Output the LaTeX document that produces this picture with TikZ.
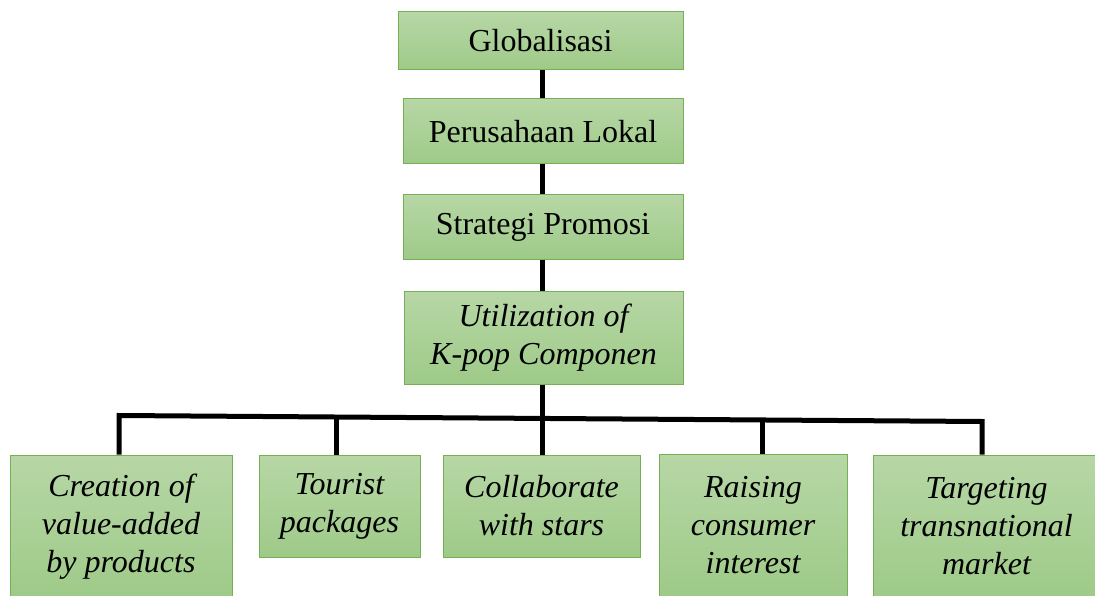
\documentclass[tikz,border=0pt]{standalone}
\usepackage{fontspec}
\setmainfont{Liberation Serif}
\usetikzlibrary{calc}
\definecolor{gtop}{RGB}{183,215,166}
\definecolor{gbot}{RGB}{158,202,136}
\definecolor{gbord}{RGB}{118,176,84}
\tikzset{
  gbox/.style={rectangle, draw=gbord, line width=1pt, top color=gtop, bottom color=gbot,
    align=center, inner sep=0pt, font=\fontsize{32}{37.5}\selectfont, text=black},
  gboxi/.style={gbox, font=\fontsize{32}{38}\selectfont\itshape},
  conn/.style={line width=5pt, black, line join=miter}
}
\begin{document}
\begin{tikzpicture}[x=1pt,y=-1pt]
\useasboundingbox (0,0) rectangle (1095,596);
\begin{scope}
\clip (0,0) rectangle (1095,596);
% top chain
\node[gbox, minimum width=285pt, minimum height=58pt] (glob) at (540.5,41) {Globalisasi};
\node[gbox, minimum width=280pt, minimum height=65pt] (pers) at (543,131.5) {Perusahaan Lokal};
\node[gbox, minimum width=280pt, minimum height=64pt] (strat) at (543,227) {Strategi Promosi};
\node[gboxi, minimum width=279pt, minimum height=93pt] (util) at (543.5,337.5) {Utilization of\\K-pop Componen};
% bottom row
\node[gboxi, minimum width=222pt, minimum height=144pt] (cre) at (121,527) {Creation of\\value-added\\by products};
\node[gboxi, minimum width=161pt, minimum height=102pt] (tour) at (339.5,506) {Tourist\\packages};
\node[gboxi, minimum width=197pt, minimum height=102pt] (coll) at (541.5,506) {Collaborate\\with stars};
\node[gboxi, minimum width=188pt, minimum height=142pt] (rais) at (753,525) {Raising\\consumer\\interest};
\node[gboxi, minimum width=227pt, minimum height=142pt] (targ) at (986.5,526) {Targeting\\transnational\\market};
% connectors
\coordinate (barL) at (119,415.5);
\coordinate (barR) at (982,421.5);
\coordinate (bT) at ($(barL)!0.2526!(barR)$);
\coordinate (bR) at ($(barL)!0.7462!(barR)$);
\draw[conn] (glob.south -| 542,0) -- (pers.north -| 542,0);
\draw[conn] (pers.south -| 542,0) -- (strat.north -| 542,0);
\draw[conn] (strat.south -| 542,0) -- (util.north -| 542,0);
\draw[conn] (util.south -| 542,0) -- (coll.north -| 542,0);
\draw[conn] (barL |- cre.north) -- (barL) -- (barR) -- (barR |- targ.north);
\draw[conn] (bT) -- (bT |- tour.north);
\draw[conn] (bR) -- (bR |- rais.north);
\end{scope}
\end{tikzpicture}
\end{document}
